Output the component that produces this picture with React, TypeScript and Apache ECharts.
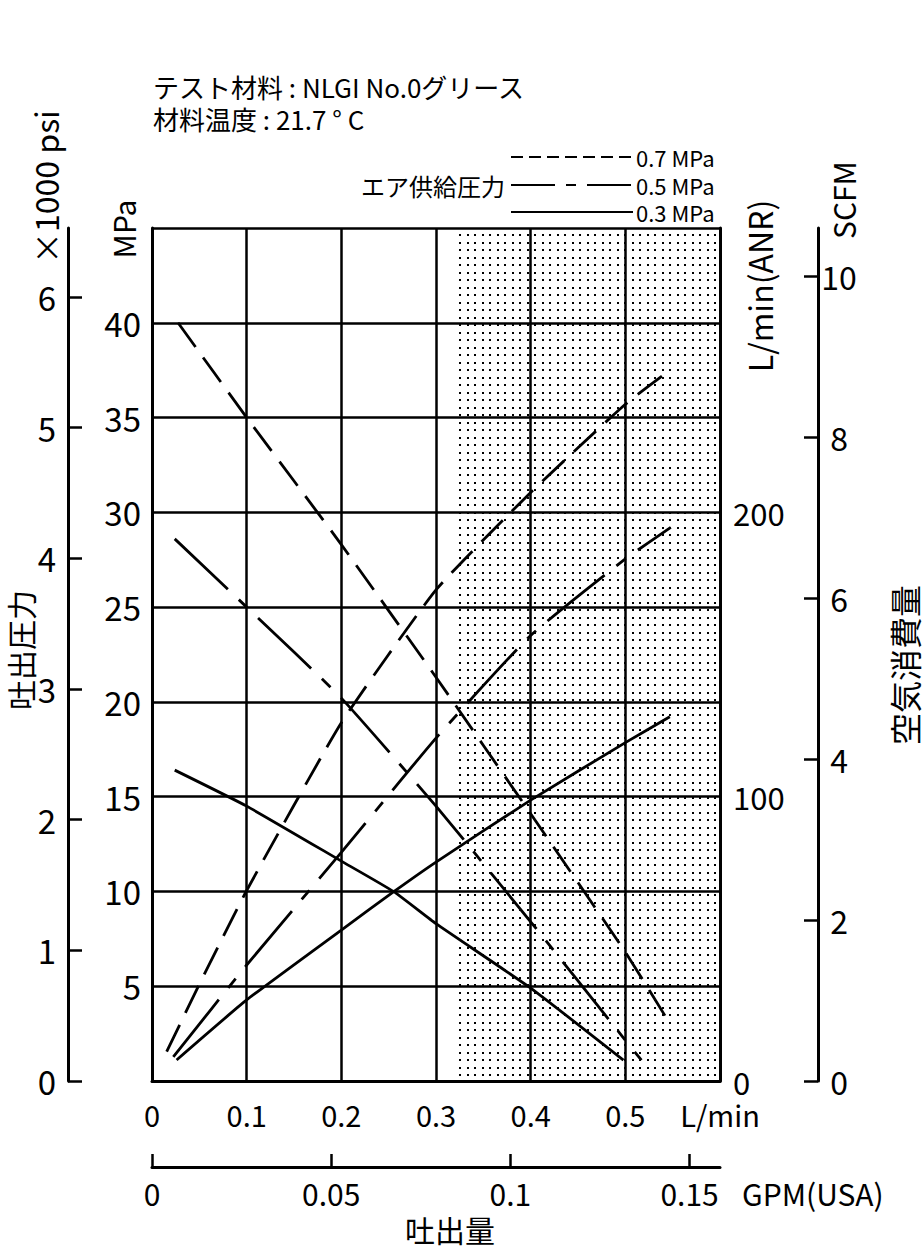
import { useEffect, useRef } from 'react';
import * as echarts from 'echarts';

const FONT = '"Noto Sans CJK JP", "Noto Sans", sans-serif';
const NARROW = '"Liberation Sans Narrow", "Noto Sans CJK JP", sans-serif';

// 吐出圧力 (MPa) vs 吐出量 (L/min)
const flow07Out = [0.0275, 0.1, 0.2, 0.3, 0.4, 0.5, 0.548];
const press07 = [40, 35, 28.3, 21.3, 14.1, 6.8, 2.95];
const flow05Out = [0.024, 0.1, 0.2, 0.3, 0.4, 0.5, 0.517];
const press05 = [28.6, 25.0, 20.2, 14.5, 8.4, 2.15, 1.1];
const flow03Out = [0.024, 0.1, 0.2, 0.255, 0.3, 0.4, 0.498];
const press03 = [16.4, 14.5, 11.6, 10.0, 8.3, 4.9, 1.1];

// 空気消費量 (L/min ANR) vs 吐出量 (L/min)
const flow07Air = [0.0155, 0.05, 0.1, 0.2, 0.3, 0.4, 0.5, 0.547];
const air07 = [10.3, 34, 67, 126, 172.7, 207, 238, 250];
const flow05Air = [0.0225, 0.1, 0.2, 0.3, 0.4, 0.5, 0.548];
const air05 = [8.5, 40.8, 80.4, 120.6, 156.7, 183.6, 194.7];
const flow03Air = [0.026, 0.1, 0.2, 0.255, 0.3, 0.4, 0.5, 0.547];
const air03 = [7.4, 28.5, 53.1, 66.5, 77, 98.8, 119, 128.1];

const psiTicks = [0, 1, 2, 3, 4, 5, 6];
const anrTicks = [0, 100, 200];
const scfmTicks = [0, 2, 4, 6, 8, 10];
const gpmTicks = [0, 0.05, 0.1, 0.15];

const shadeFrom = 0.32;
const flowMax = 0.6;
const pressMax = 45;
const anrMax = 300;

const LPM_PER_GPM = 3.785411784;
const MPA_PER_KSI = 6.894757;
const LPM_PER_SCFM = 28.3168466;

const supply = [
  { name: '0.7 MPa', dash: [30, 13] as number[] | 'solid', legendDash: [12, 6] as number[] | null, out: [flow07Out, press07], air: [flow07Air, air07] },
  { name: '0.5 MPa', dash: [73, 15, 12, 15], legendDash: [44, 11, 10, 11], out: [flow05Out, press05], air: [flow05Air, air05] },
  { name: '0.3 MPa', dash: 'solid', legendDash: null, out: [flow03Out, press03], air: [flow03Air, air03] },
];

const BLACK = '#000';
const axisLine = { show: true, onZero: false, lineStyle: { color: BLACK, width: 3 } };
const tickStyle = { color: BLACK, width: 2.5 };
const gridLine = { show: true, lineStyle: { color: BLACK, width: 2.5 } };

function dotPattern() {
  const c = document.createElement('canvas');
  c.width = 15;
  c.height = 15;
  const g = c.getContext('2d')!;
  g.fillStyle = BLACK;
  for (const [x, y] of [[2, 2], [9, 2], [2, 9], [9, 9]]) g.fillRect(x, y, 2, 2);
  return c;
}

function zip(xs: number[], ys: number[]) {
  return xs.map((x, i) => [x, ys[i]]);
}

function text(x: number, y: number, t: string, size: number, opts: Record<string, unknown> = {}) {
  const { rotation, align, family, ...rest } = opts as any;
  return {
    type: 'text',
    x,
    y,
    rotation: rotation ?? 0,
    style: {
      text: t,
      fontSize: size,
      lineHeight: size,
      fontFamily: family ?? FONT,
      fill: BLACK,
      align: align ?? 'left',
      verticalAlign: 'middle',
      ...rest,
    },
  };
}

function buildOption() {
  const series: any[] = [];
  supply.forEach((s, i) => {
    const lineStyle = { color: BLACK, width: 2.8, type: s.dash };
    series.push({
      type: 'line',
      name: s.name,
      xAxisIndex: 0,
      yAxisIndex: 0,
      data: zip(s.out[0], s.out[1]),
      symbol: 'none',
      smooth: 0.15,
      lineStyle,
      z: 3,
      markArea:
        i === 0
          ? {
              silent: true,
              itemStyle: { color: { image: dotPattern(), repeat: 'repeat' } },
              data: [[{ xAxis: shadeFrom, yAxis: 0 }, { xAxis: flowMax, yAxis: pressMax }]],
            }
          : undefined,
    });
    series.push({
      type: 'line',
      name: s.name + ' air',
      xAxisIndex: 0,
      yAxisIndex: 2,
      data: zip(s.air[0], s.air[1]),
      symbol: 'none',
      smooth: 0.15,
      lineStyle,
      z: 3,
    });
  });

  const legendY = [157, 185, 212];
  const graphic: any[] = [
    text(153, 86, 'テスト材料 : NLGI No.0グリース', 26),
    text(153, 118, '材料温度 : 21.7 ° C', 26),
    text(505, 185, 'エア供給圧力', 24, { align: 'right' }),
    text(45, 187, '×1000 psi', 32, { rotation: Math.PI / 2, align: 'center' }),
    text(123, 229, 'MPa', 30, { rotation: Math.PI / 2, align: 'center' }),
    text(20, 650, '吐出圧力', 30, { rotation: Math.PI / 2, align: 'center' }),
    text(759, 286, 'L/min(ANR)', 32, { rotation: Math.PI / 2, align: 'center' }),
    text(843, 200, 'SCFM', 30, { rotation: Math.PI / 2, align: 'center' }),
    text(904, 665, '空気消費量', 32, { rotation: Math.PI / 2, align: 'center' }),
    text(742, 1193, 'GPM(USA)', 30, { family: NARROW }),
    text(450, 1229, '吐出量', 30, { align: 'center' }),
  ];
  supply.forEach((s, i) => {
    graphic.push({
      type: 'line',
      shape: { x1: 511, y1: legendY[i], x2: 633, y2: legendY[i] },
      style: { stroke: BLACK, lineWidth: 2, lineDash: s.legendDash ?? undefined },
    });
    graphic.push(text(636, legendY[i], s.name, 22));
  });

  return {
    animation: false,
    backgroundColor: '#fff',
    textStyle: { fontFamily: FONT, color: BLACK },
    grid: { left: 152, top: 228, width: 568, height: 853, containLabel: false },
    xAxis: [
      {
        type: 'value',
        min: 0,
        max: flowMax,
        interval: 0.1,
        position: 'bottom',
        axisLine,
        axisTick: { show: false },
        splitLine: gridLine,
        axisLabel: {
          fontFamily: NARROW,
          fontSize: 29,
          lineHeight: 29,
          color: BLACK,
          margin: 18,
          formatter: (v: number) => (Math.abs(v - flowMax) < 1e-6 ? 'L/min' : v === 0 ? '0' : v.toFixed(1)),
        },
      },
      {
        type: 'value',
        min: 0,
        max: flowMax / LPM_PER_GPM,
        position: 'bottom',
        offset: 86,
        axisLine,
        axisTick: { show: true, inside: true, length: 13, customValues: gpmTicks, lineStyle: tickStyle },
        splitLine: { show: false },
        axisLabel: {
          customValues: gpmTicks,
          fontFamily: NARROW,
          fontSize: 30,
          color: BLACK,
          margin: 11,
          formatter: (v: number) => String(v),
        },
      },
    ],
    yAxis: [
      {
        type: 'value',
        min: 0,
        max: pressMax,
        interval: 5,
        position: 'left',
        axisLine,
        axisTick: { show: false },
        splitLine: gridLine,
        axisLabel: {
          fontSize: 33,
          color: BLACK,
          margin: 11,
          formatter: (v: number) => (v === 0 || v === pressMax ? '' : String(v)),
        },
      },
      {
        type: 'value',
        min: 0,
        max: pressMax / MPA_PER_KSI,
        position: 'left',
        offset: 84,
        axisLine,
        axisTick: { show: true, inside: true, length: 14, customValues: psiTicks, lineStyle: tickStyle },
        splitLine: { show: false },
        axisLabel: { customValues: psiTicks, fontSize: 33, color: BLACK, margin: 12 },
      },
      {
        type: 'value',
        min: 0,
        max: anrMax,
        position: 'right',
        axisLine,
        axisTick: { show: false },
        splitLine: { show: false },
        axisLabel: { customValues: anrTicks, fontSize: 31, lineHeight: 31, color: BLACK, margin: 13 },
      },
      {
        type: 'value',
        min: 0,
        max: anrMax / LPM_PER_SCFM,
        position: 'right',
        offset: 98,
        axisLine,
        axisTick: { show: true, inside: true, length: 14, customValues: scfmTicks, lineStyle: tickStyle },
        splitLine: { show: false },
        axisLabel: { customValues: scfmTicks, fontSize: 32, color: BLACK, margin: 21, align: 'center' },
      },
    ],
    series,
    graphic,
  };
}

export default function App() {
  const ref = useRef<HTMLDivElement>(null);

  useEffect(() => {
    if (!ref.current) return;
    const chart = echarts.init(ref.current, null, { renderer: 'svg' });
    chart.setOption(buildOption() as any);
    return () => chart.dispose();
  }, []);

  return (
    <div
      ref={ref}
      style={{ position: 'absolute', left: 0, top: 0, width: 922, height: 1249, background: '#fff' }}
    />
  );
}
